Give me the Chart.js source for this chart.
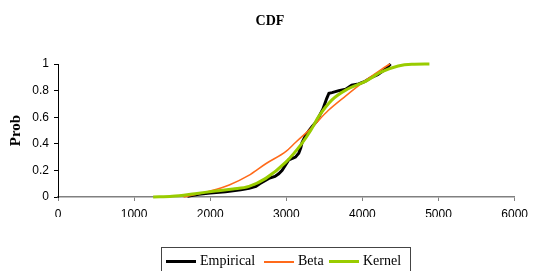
<!DOCTYPE html>
<html>
<head>
<meta charset="utf-8">
<script src="https://cdn.jsdelivr.net/npm/chart.js@4"></script>
<style>
    body { margin: 0; background: #fff; }
    #wrap { position: relative; width: 534px; height: 271px; overflow: hidden; }
    #title {
        position: absolute; left: 0; width: 540px; top: 13px;
        text-align: center; font: bold 14px "Liberation Serif", serif; color: #000;
    }
    #legend {
        position: absolute; left: 161px; top: 247px; width: 250px; height: 40px;
        border: 1px solid #444; box-sizing: border-box;
        font: 14px "Liberation Serif", serif; color: #000;
    }
    .item { position: absolute; top: 4px; height: 18px; line-height: 18px; white-space: nowrap; }
    .swatch { display: inline-block; width: 30px; vertical-align: middle; margin-right: 4px; }
</style>
</head>
<body>
<div id="wrap">
    <canvas id="cdfChart" width="534" height="271"></canvas>
    <div id="title">CDF</div>
    <div id="legend"></div>
</div>
<script>
// CDF chart data

const xTicks = [0, 1000, 2000, 3000, 4000, 5000, 6000];
const yTicks = [0, 0.2, 0.4, 0.6, 0.8, 1];

const empiricalX = [1700, 1850, 2000, 2200, 2400, 2510, 2600, 2650, 2770, 2850, 2900, 2945, 3000, 3033, 3080, 3120, 3163, 3190, 3207, 3250, 3300, 3340, 3400, 3425, 3480, 3530, 3560, 3600, 3690, 3780, 3860, 3950, 4035, 4120, 4200, 4300, 4370];
const empiricalY = [0.005, 0.02, 0.03, 0.04, 0.055, 0.065, 0.08, 0.1, 0.14, 0.155, 0.175, 0.2, 0.25, 0.28, 0.29, 0.3, 0.33, 0.37, 0.41, 0.46, 0.5, 0.53, 0.57, 0.6, 0.66, 0.74, 0.78, 0.785, 0.8, 0.81, 0.84, 0.85, 0.87, 0.9, 0.92, 0.96, 1.0];

const betaX = [1650, 1850, 2000, 2250, 2500, 2730, 3000, 3120, 3330, 3550, 3770, 4050, 4250, 4360];
const betaY = [0, 0.025, 0.045, 0.09, 0.16, 0.25, 0.345, 0.41, 0.52, 0.65, 0.755, 0.88, 0.96, 1.0];

const kernelX = [1250, 1500, 1800, 2070, 2300, 2510, 2730, 2990, 3200, 3320, 3420, 3600, 3800, 4040, 4250, 4470, 4650, 4880];
const kernelY = [0, 0.005, 0.025, 0.045, 0.06, 0.08, 0.14, 0.26, 0.4, 0.5, 0.6, 0.73, 0.81, 0.87, 0.94, 0.985, 0.998, 1.0];

const seriesNames = ["Empirical", "Beta", "Kernel"];
const seriesColors = ["#000000", "#FF6A1A", "#99CC00"];

function toPoints(xs, ys) {
    return xs.map((x, i) => ({ x: x, y: ys[i] }));
}

// fixed axis sizes so the plot area lines up with the picture
function fixWidth(w) {
    return scale => { scale.width = w; };
}
function fixHeight(h) {
    return scale => { scale.height = h; };
}

const ctx = document.getElementById("cdfChart");

new Chart(ctx, {
    type: "line",
    data: {
        datasets: [
            {
                label: seriesNames[0],
                data: toPoints(empiricalX, empiricalY),
                borderColor: seriesColors[0],
                borderWidth: 3,
                pointRadius: 0,
                tension: 0,
                order: 2
            },
            {
                label: seriesNames[1],
                data: toPoints(betaX, betaY),
                borderColor: seriesColors[1],
                borderWidth: 1.5,
                pointRadius: 0,
                cubicInterpolationMode: "monotone",
                order: 1
            },
            {
                label: seriesNames[2],
                data: toPoints(kernelX, kernelY),
                borderColor: seriesColors[2],
                borderWidth: 3,
                pointRadius: 0,
                cubicInterpolationMode: "monotone",
                order: 0
            }
        ]
    },
    options: {
        responsive: false,
        animation: false,
        clip: 4,
        layout: {
            padding: { left: 0, right: 17, top: 64, bottom: 54 }
        },
        plugins: {
            legend: { display: false },
            title: { display: false },
            tooltip: { enabled: false }
        },
        scales: {
            x: {
                type: "linear",
                min: xTicks[0],
                max: xTicks[xTicks.length - 1],
                afterFit: fixHeight(20),
                afterBuildTicks: scale => { scale.ticks = xTicks.map(v => ({ value: v })); },
                grid: {
                    drawOnChartArea: false,
                    color: "#808080",
                    tickLength: 4
                },
                border: { color: "#808080", width: 1.5 },
                ticks: {
                    padding: 6,
                    color: "#000",
                    font: { family: "Liberation Sans", size: 12 },
                    callback: v => String(v),
                    maxRotation: 0
                }
            },
            y: {
                type: "linear",
                min: 0,
                max: 1,
                afterFit: fixWidth(58),
                afterBuildTicks: scale => { scale.ticks = yTicks.map(v => ({ value: v })); },
                grid: {
                    drawOnChartArea: false,
                    color: "#000",
                    tickLength: 4
                },
                border: { color: "#000", width: 1 },
                ticks: {
                    padding: 5,
                    color: "#000",
                    font: { family: "Liberation Sans", size: 12 },
                    callback: v => String(v)
                },
                title: {
                    display: true,
                    text: "Prob",
                    color: "#000",
                    padding: { top: 7, bottom: 0 },
                    font: { family: "Liberation Serif", size: 15, weight: "bold" }
                }
            }
        }
    }
});

// ====================== LEGEND ======================

const legendPos = [[4, 38], [102, 135], [167, 201]];
const legendWidths = [3, 2, 3];
const legend = document.getElementById("legend");

seriesNames.forEach((name, i) => {
    const item = document.createElement("div");
    item.className = "item";
    item.style.left = legendPos[i][0] + "px";
    const sw = document.createElement("span");
    sw.className = "swatch";
    sw.style.borderTop = legendWidths[i] + "px solid " + seriesColors[i];
    item.appendChild(sw);
    item.appendChild(document.createTextNode(name));
    legend.appendChild(item);
});
</script>
</body>
</html>
